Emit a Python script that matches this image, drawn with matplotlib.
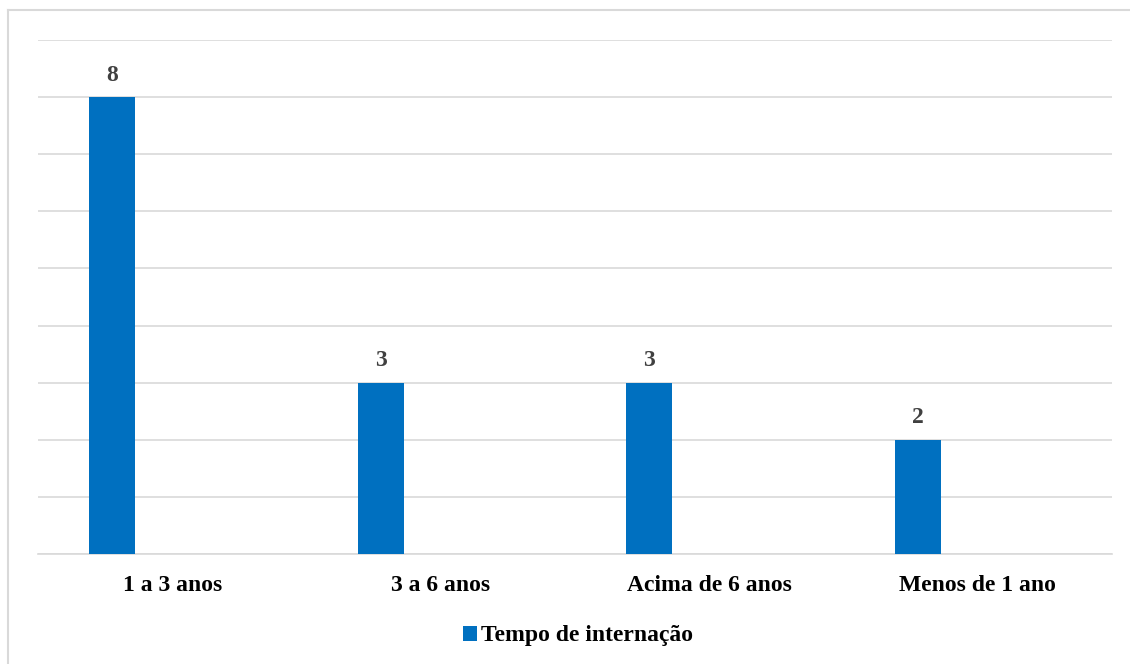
import matplotlib.pyplot as plt
from matplotlib.lines import Line2D
import numpy as np

categories = ['1 a 3 anos', '3 a 6 anos', 'Acima de 6 anos', 'Menos de 1 ano']
values = [8, 3, 3, 2]
series_name = 'Tempo de internação'

BAR_COLOR = '#0070C0'
GRID_COLOR = '#D9D9D9'

plt.rcParams['font.family'] = ['Liberation Serif', 'DejaVu Serif']

fig = plt.figure(figsize=(11.3, 6.64), dpi=100)
ax = fig.add_axes([38 / 1130, 110 / 664, 1074 / 1130, 514 / 664])

x = np.arange(len(categories))
bars = ax.bar(x - 0.224, values, width=0.171, color=BAR_COLOR,
              label=series_name, zorder=3)

for b, v in zip(bars, values):
    ax.text(b.get_x() + b.get_width() / 2, v + 0.2, str(v),
            ha='center', va='bottom', fontsize=17, fontweight='bold',
            color='#404040')

ax.set_xlim(-0.5, len(categories) - 0.5)
ax.set_ylim(0, 9)
ax.set_yticks(range(0, 10))
ax.yaxis.grid(True, color=GRID_COLOR, linewidth=1.2, zorder=0)
ax.tick_params(axis='y', left=False, labelleft=False)
ax.tick_params(axis='x', length=0, pad=15)
ax.set_xticks(x)
ax.set_xticklabels(categories, fontsize=17, fontweight='bold')
for side in ('left', 'right', 'top'):
    ax.spines[side].set_visible(False)
ax.spines['bottom'].set_color(GRID_COLOR)
ax.spines['bottom'].set_linewidth(1.2)

leg = fig.legend(handles=[bars], labels=[series_name], loc='center',
                 bbox_to_anchor=(578 / 1130, 1 - 636 / 664), frameon=False,
                 prop={'size': 17, 'weight': 'bold'}, handlelength=0.6,
                 handleheight=0.6, handletextpad=0.15)

# chart area outline: only the top and left edges fall inside the image
x0, y0 = 8 / 1130, 1 - 10 / 664
fig.add_artist(Line2D([x0, 1.0], [y0, y0], transform=fig.transFigure,
                      color=GRID_COLOR, linewidth=1.5))
fig.add_artist(Line2D([x0, x0], [0.0, y0], transform=fig.transFigure,
                      color=GRID_COLOR, linewidth=1.5))

fig.savefig('out.png', dpi=100)
